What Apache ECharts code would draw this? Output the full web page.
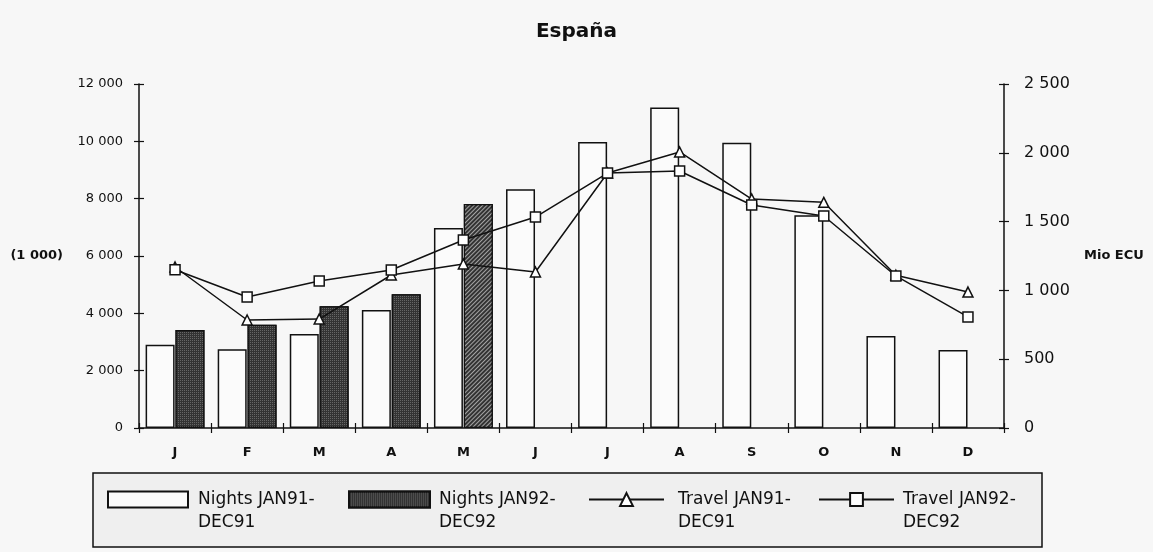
<!DOCTYPE html>
<html>
<head>
<meta charset="utf-8">
<script src="https://cdn.jsdelivr.net/npm/echarts@6/dist/echarts.min.js"></script>
<style>
html,body{margin:0;padding:0;background:#f7f7f7;}
#c{width:1153px;height:552px;}
</style>
</head>
<body>
<div id="c"></div>
<script>
const months = ['J','F','M','A','M','J','J','A','S','O','N','D'];
const nights91 = [2900, 2750, 3280, 4120, 6980, 8330, 9980, 11180, 9950, 7420, 3210, 2720];
const nights92 = [3420, 3600, 4250, 4670, 7810, null, null, null, null, null, null, null];
const travel91 = [1170, 785, 792, 1112, 1192, 1134, 1853, 2006, 1664, 1640, 1110, 988];
const travel92 = [1150, 952, 1068, 1148, 1366, 1533, 1853, 1868, 1621, 1541, 1105, 807];
const leftTicks = {min: 0, max: 12000, interval: 2000};
const rightTicks = {min: 0, max: 2500, interval: 500};
const names = ['Nights JAN91-DEC91', 'Nights JAN92-DEC92', 'Travel JAN91-DEC91', 'Travel JAN92-DEC92'];

const FONT = 'DejaVu Sans, Verdana, sans-serif';
const fmt = v => {
  const s = String(v);
  return s.length > 3 ? s.slice(0, s.length - 3) + ' ' + s.slice(-3) : s;
};
// blank first line so that the first text line sits level with the legend icon
const legendLabel = n => ' \n' + n.replace('-', '-\n');

const chart = echarts.init(document.getElementById('c'), null, {renderer: 'canvas'});

const darkDecal = {
  symbol: 'rect', symbolSize: 1, color: 'rgba(255,255,255,0.25)',
  dashArrayX: [1, 1], dashArrayY: [1, 1], rotation: 0
};
const hatchDecal = {
  symbol: 'rect', symbolSize: 1, color: 'rgba(255,255,255,0.55)',
  dashArrayX: [1, 0], dashArrayY: [1, 2], rotation: -Math.PI / 4
};

const n92data = nights92.map((v, i) => (i === 4 && v != null) ? {value: v, itemStyle: {decal: hatchDecal}} : v);

function legendAt(name, left, itemWidth, padLeft, icon) {
  const l = {
    data: [name], left: left, top: 465, orient: 'horizontal', padding: 0,
    itemWidth: itemWidth, itemHeight: 16,
    formatter: legendLabel,
    textStyle: {fontFamily: FONT, fontSize: 17, color: '#111', lineHeight: 23, padding: [0, 0, 0, padLeft]},
    selectedMode: false
  };
  if (icon) l.icon = icon;
  return l;
}

const axisLine = {show: true, lineStyle: {color: '#111', width: 1.5}};

chart.setOption({
  backgroundColor: '#f7f7f7',
  animation: false,
  title: {
    text: 'España', left: 'center', top: 17,
    textStyle: {fontFamily: FONT, fontSize: 20, fontWeight: 'bold', color: '#111'}
  },
  graphic: [{
    type: 'rect', z: -1, silent: true,
    shape: {x: 93, y: 473, width: 949, height: 74},
    style: {fill: '#efefef', stroke: '#111', lineWidth: 1.5}
  }],
  legend: [
    legendAt(names[0], 107, 80, 5, 'rect'),
    legendAt(names[1], 348, 81, 4, 'rect'),
    legendAt(names[2], 588, 75, 9),
    legendAt(names[3], 818, 75, 4)
  ],
  grid: {left: 139, right: 149, top: 84, bottom: 124},
  xAxis: [{
    type: 'category', data: months,
    axisLine: axisLine,
    axisTick: {show: true, inside: false, length: 5, lineStyle: {color: '#111', width: 1.2}},
    axisLabel: {fontFamily: FONT, fontSize: 13, fontWeight: 'bold', color: '#111', margin: 18},
    splitLine: {show: false}
  }, {
    type: 'category', data: months, position: 'bottom', gridIndex: 0,
    axisLine: {show: false},
    axisTick: {show: true, inside: true, length: 5, lineStyle: {color: '#111', width: 1.2}},
    axisLabel: {show: false}
  }],
  yAxis: [{
    type: 'value', min: leftTicks.min, max: leftTicks.max, interval: leftTicks.interval,
    position: 'left',
    name: '(1 000)', nameLocation: 'middle', nameRotate: 0, nameGap: 76,
    nameTextStyle: {fontFamily: FONT, fontSize: 13, fontWeight: 'bold', color: '#111'},
    axisLine: axisLine,
    axisTick: {show: true, length: 5, lineStyle: {color: '#111', width: 1.2}},
    axisLabel: {fontFamily: FONT, fontSize: 13, color: '#111', margin: 16, formatter: fmt},
    splitLine: {show: false}
  }, {
    type: 'value', min: rightTicks.min, max: rightTicks.max, interval: rightTicks.interval,
    position: 'right',
    name: 'Mio ECU', nameLocation: 'middle', nameRotate: 0, nameGap: 80,
    nameTextStyle: {fontFamily: FONT, fontSize: 13, fontWeight: 'bold', color: '#111'},
    axisLine: axisLine,
    axisTick: {show: true, length: 5, lineStyle: {color: '#111', width: 1.2}},
    axisLabel: {fontFamily: FONT, fontSize: 16, color: '#111', margin: 20, formatter: fmt},
    splitLine: {show: false}
  }, {
    type: 'value', min: leftTicks.min, max: leftTicks.max, interval: leftTicks.interval,
    position: 'left',
    axisLine: {show: false}, axisLabel: {show: false}, splitLine: {show: false},
    axisTick: {show: true, inside: true, length: 5, lineStyle: {color: '#111', width: 1.2}}
  }, {
    type: 'value', min: rightTicks.min, max: rightTicks.max, interval: rightTicks.interval,
    position: 'right',
    axisLine: {show: false}, axisLabel: {show: false}, splitLine: {show: false},
    axisTick: {show: true, inside: true, length: 5, lineStyle: {color: '#111', width: 1.2}}
  }],
  series: [{
    name: names[0], type: 'bar', data: nights91, yAxisIndex: 0,
    barWidth: 29, barGap: '3%',
    itemStyle: {color: '#fbfbfb', borderColor: '#111', borderWidth: 1.5}
  }, {
    name: names[1], type: 'bar', data: n92data, yAxisIndex: 0,
    barWidth: 29, barGap: '3%',
    itemStyle: {color: '#333', borderColor: '#111', borderWidth: 1.2, decal: darkDecal}
  }, {
    name: names[2], type: 'line', data: travel91, yAxisIndex: 1, z: 5,
    symbol: 'triangle', symbolSize: 10, showAllSymbol: true,
    lineStyle: {color: '#111', width: 1.5},
    itemStyle: {color: '#fff', borderColor: '#111', borderWidth: 1.5}
  }, {
    name: names[3], type: 'line', data: travel92, yAxisIndex: 1, z: 5,
    symbol: 'rect', symbolSize: 10, showAllSymbol: true,
    lineStyle: {color: '#111', width: 1.5},
    itemStyle: {color: '#fff', borderColor: '#111', borderWidth: 1.5}
  }]
});
</script>
</body>
</html>
